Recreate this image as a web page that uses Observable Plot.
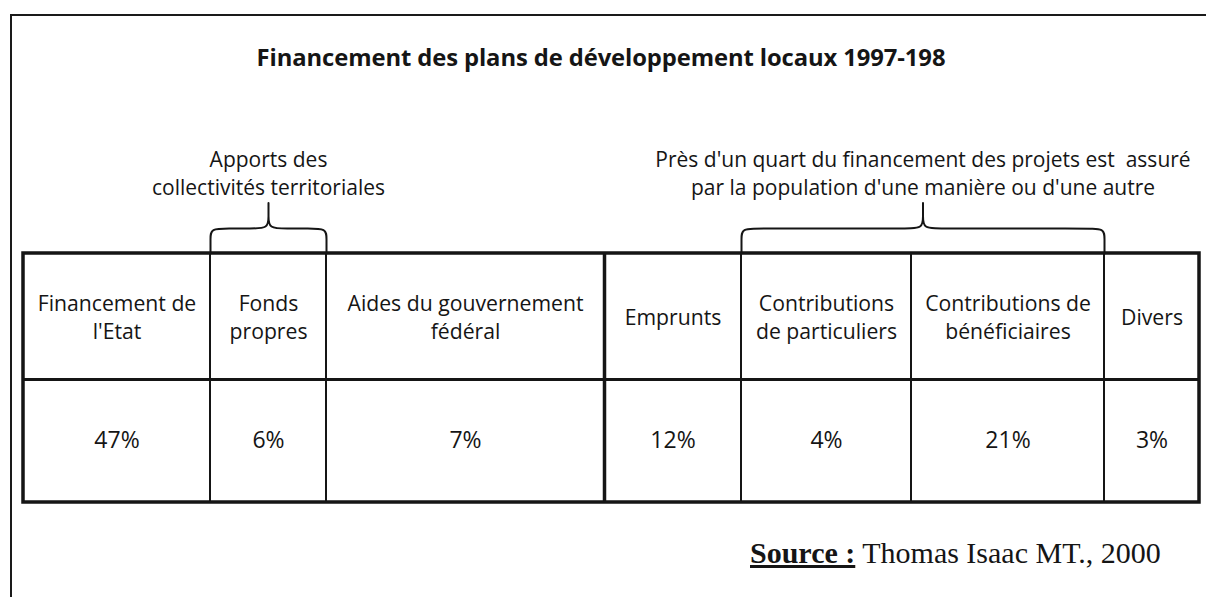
<!DOCTYPE html>
<html><head><meta charset="utf-8">
<script src="https://cdn.jsdelivr.net/npm/d3@7"></script>
<script src="https://cdn.jsdelivr.net/npm/@observablehq/plot@0.6"></script>
<style>
body{margin:0;background:#fff;width:1206px;height:597px;overflow:hidden;position:relative;font-family:"Open Sans",sans-serif;color:#151515;}
#frame{position:absolute;left:10px;top:14px;width:1300px;height:700px;border-top:2px solid #1a1a1a;border-left:2px solid #1a1a1a;}
#title{position:absolute;top:41px;left:0;width:1202px;text-align:center;font-weight:bold;font-size:23.8px;line-height:32px;letter-spacing:-0.1px;}
#chart{position:absolute;left:0;top:125px;}
#source{position:absolute;left:750px;top:535px;font-family:"Liberation Serif",serif;font-size:30px;line-height:36px;white-space:nowrap;}
#source b{text-decoration:underline;}
svg text{white-space:pre;}
</style>
</head><body>
<div id="frame"></div>
<div id="title"></div>
<div id="chart"></div>
<div id="source"></div>
<script>
// ---- data ----
const title = "Financement des plans de développement locaux 1997-198";
const categories = [
  "Financement de\nl'Etat",
  "Fonds\npropres",
  "Aides du gouvernement\nfédéral",
  "Emprunts",
  "Contributions\nde particuliers",
  "Contributions de\nbénéficiaires",
  "Divers"
];
const shares = [47, 6, 7, 12, 4, 21, 3];
const groupLabels = [
  "Apports des\ncollectivités territoriales",
  "Près d'un quart du financement des projets est  assuré\npar la population d'une manière ou d'une autre"
];
const groupFirst = [1, 4];
const groupLast = [1, 5];
const sourceLabel = "Source :";
const sourceText = "Thomas Isaac MT., 2000";

// ---- layout ----
const W = 1206, H = 400;
const tableLeft = 23;
const colWidths = [187, 116, 278, 137, 170, 193, 95];
const thickAfter = 2; // heavy separator after this column
const rowTop = 128, rowMid = 254, rowBottom = 377;
const braceCorner = 103, braceTip = 77, braceR = 18;
const labelY = 47;

const edges = [tableLeft];
colWidths.forEach(w => edges.push(edges[edges.length - 1] + w));

const cells = categories.map((c, i) => ({category: c, share: shares[i], x1: edges[i], x2: edges[i + 1]}));
const groups = groupLabels.map((g, i) => ({label: g, x1: edges[groupFirst[i]], x2: edges[groupLast[i] + 1]}));

const brace = [];
groups.forEach((g, k) => {
  const a = g.x1, b = g.x2, m = (a + b) / 2;
  const pts = [
    [a, rowTop], [a, rowTop], [a, braceCorner + 10], [a, braceCorner], [a + braceR, braceCorner],
    [m - braceR, braceCorner], [m, braceCorner], [m, braceCorner - 12], [m, braceTip], [m, braceTip],
    [m, braceCorner - 12], [m, braceCorner], [m + braceR, braceCorner],
    [b - braceR, braceCorner], [b, braceCorner], [b, braceCorner + 10], [b, rowTop], [b, rowTop]
  ];
  pts.forEach(([x, y]) => brace.push({g: k, x, y}));
});

document.getElementById("title").textContent = title;
document.getElementById("source").innerHTML = "<b>" + sourceLabel + "</b> " + sourceText;

const ink = "#151515";
const chart = Plot.plot({
  width: W, height: H,
  margin: 0,
  x: {domain: [0, W], range: [0, W], axis: null},
  y: {domain: [0, H], range: [0, H], axis: null},
  style: {fontFamily: "Open Sans, sans-serif", color: ink, background: "transparent"},
  marks: [
    Plot.rect(cells, {x1: "x1", x2: "x2", y1: rowTop, y2: rowBottom, fill: "none", stroke: ink, strokeWidth: 2}),
    Plot.ruleY([rowMid], {x1: edges[0], x2: edges[edges.length - 1], stroke: ink, strokeWidth: 3}),
    Plot.ruleX([edges[thickAfter + 1]], {y1: rowTop, y2: rowBottom, stroke: ink, strokeWidth: 3.5}),
    Plot.rect([0], {x1: edges[0], x2: edges[edges.length - 1], y1: rowTop, y2: rowBottom, fill: "none", stroke: ink, strokeWidth: 3.5}),
    Plot.line(brace, {x: "x", y: "y", z: "g", curve: "basis", stroke: ink, strokeWidth: 2}),
    Plot.text(cells, {x: d => (d.x1 + d.x2) / 2, y: (rowTop + rowMid) / 2, text: "category", fontSize: 21.2, lineHeight: 1.32, fill: ink}),
    Plot.text(cells, {x: d => (d.x1 + d.x2) / 2, y: (rowMid + rowBottom) / 2, text: d => d.share + "%", fontSize: 23, fill: ink}),
    Plot.text(groups, {x: d => (d.x1 + d.x2) / 2, y: labelY, text: "label", fontSize: 21, lineHeight: 1.33, fill: ink})
  ]
});
document.getElementById("chart").appendChild(chart);
</script>
</body></html>
